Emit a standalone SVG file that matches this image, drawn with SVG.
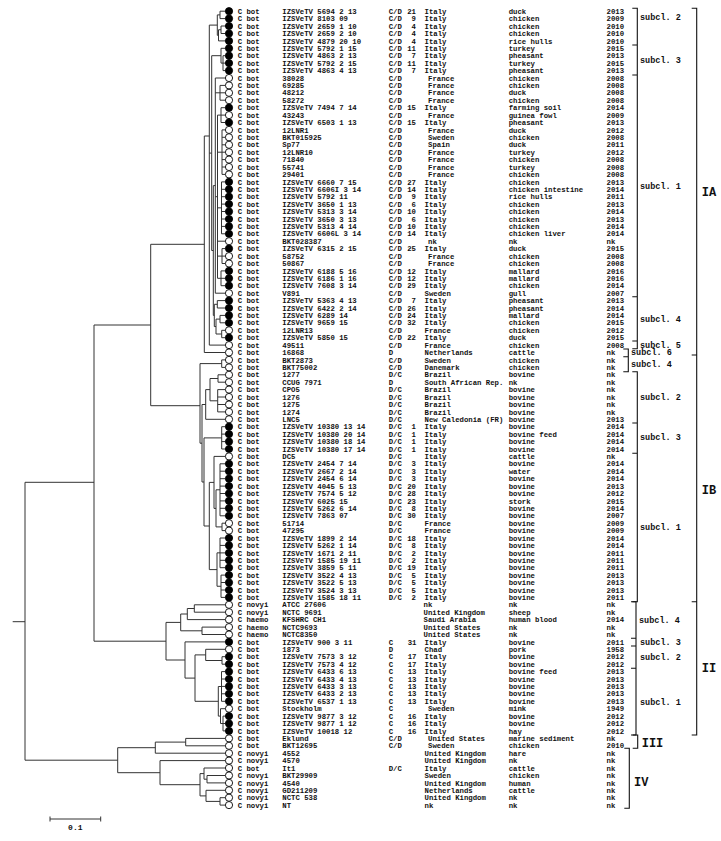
<svg xmlns="http://www.w3.org/2000/svg" xmlns:xlink="http://www.w3.org/1999/xlink" width="721" height="841" viewBox="0 0 721 841">
<style>
text{font-family:"Liberation Mono","DejaVu Sans Mono",monospace;font-weight:bold;font-size:7.3px;fill:#111}
.e{text-anchor:end}
.lb{font-size:8.5px}
.cl{font-size:12px}
.sc{font-size:8px;text-anchor:middle}
.t{fill:none;stroke:#333;stroke-width:1}
.b{fill:none;stroke:#111;stroke-width:1.1}
</style>
<defs>
<circle id="F" cx="229" cy="-2.6" r="3.6" fill="#000" stroke="#000" stroke-width="0.9"/>
<circle id="O" cx="229" cy="-2.6" r="3.6" fill="#fff" stroke="#000" stroke-width="0.9"/>
</defs>
<rect width="721" height="841" fill="#fff"/>
<g id="connectors" class="t">
<path d="M12.7,621.7H25 M25,482.3V760.2 M25,482.3H94 M25,760.2H117.7 M94,325V641.2 M94,325H150.7 M94,641.2H166 M150.7,244.3V405.7 M150.7,244.3H204.3 M150.7,405.7H200"/>
<path d="M204.3,136V352.5 M204.3,136H209.3 M204.3,352.5H225.5 M209.3,25.1V345.1 M209.3,25.1H217.3 M209.3,153.1H211.7 M209.3,345.1H225.5 M217.3,14.9V35.3 M217.3,14.9H220 M217.3,35.3H218.5 M220,11.2V18.6 M220,11.2H225.5 M220,18.6H225.5 M218.5,29.75V40.9 M218.5,29.75H221 M218.5,40.9H225.5 M221,26V33.5 M221,26H225.5 M221,33.5H225.5 M211.7,55.7V250.5 M211.7,55.7H221 M211.7,250.5H213.3 M221,48.3V63.1 M221,48.3H225.5 M221,63.1H223 M223,55.7V70.6 M223,55.7H225.5 M223,63.1H225.5 M223,70.6H225.5"/>
<path d="M213.3,185.6V315.4 M213.3,185.6H215.3 M213.3,315.4H214.3 M215.3,78V293.2 M215.3,78H225.5 M215.3,92.8H220 M215.3,196.7H217.5 M215.3,293.2H225.5 M220,85.4V100.2 M220,85.4H225.5 M220,92.8H225.5 M220,100.2H225.5 M217.5,115.1V278.3 M217.5,115.1H221 M217.5,152.2H222 M217.5,207.85H221.5 M217.5,241.2H225.5 M217.5,256.1H222 M217.5,278.3H221 M221,107.7V122.5 M221,107.7H225.5 M221,115.1H225.5 M221,122.5H225.5 M222,129.9V174.4 M222,129.9H225.5 M222,137.3H225.5 M222,144.8H225.5 M222,152.2H225.5 M222,159.6H225.5 M222,167H225.5 M222,174.4H225.5 M221.5,181.9V233.8 M221.5,181.9H225.5 M221.5,189.3H225.5 M221.5,196.7H225.5 M221.5,204.1H225.5 M221.5,211.5H225.5 M221.5,219H225.5 M221.5,226.4H225.5 M221.5,233.8H225.5 M222,248.6V263.5 M222,248.6H225.5 M222,256.1H225.5 M222,263.5H225.5 M221,270.9V285.7 M221,270.9H225.5 M221,278.3H225.5 M221,285.7H225.5"/>
<path d="M214.3,304.3V326.55 M214.3,304.3H217.3 M214.3,326.55H216 M217.3,300.6V308 M217.3,300.6H225.5 M217.3,308H225.5 M216,319.1V334 M216,319.1H220 M216,334H221.7 M220,315.4V322.8 M220,315.4H225.5 M220,322.8H225.5 M221.7,330.3V337.7 M221.7,330.3H225.5 M221.7,337.7H225.5"/>
<path d="M200,363.6V443.2 M200,363.6H221.7 M200,443.2H202 M221.7,359.9V367.4 M221.7,359.9H225.5 M221.7,367.4H225.5 M202,404.5V482 M202,404.5H205.7 M202,482H204 M205.7,389.6V419.3 M205.7,389.6H210 M205.7,419.3H225.5 M210,378.5V400.8 M210,378.5H218 M210,400.8H217.7 M218,374.8V382.2 M218,374.8H225.5 M218,382.2H225.5 M217.7,389.6V411.9 M217.7,389.6H225.5 M217.7,397H225.5 M217.7,404.5H225.5 M217.7,411.9H225.5 M204,437.9V526 M204,437.9H221.7 M204,526H209.3 M221.7,426.7V449 M221.7,426.7H225.5 M221.7,434.1H225.5 M221.7,441.6H225.5 M221.7,449H225.5"/>
<path d="M209.3,482.4V569.6 M209.3,482.4H214 M209.3,569.6H217 M214,456.4V508.4 M214,456.4H225.5 M214,508.4H216 M216,489.8V526.9 M216,489.8H220 M216,526.9H222 M220,463.8V515.8 M220,463.8H225.5 M220,471.2H225.5 M220,478.7H225.5 M220,486.1H225.5 M220,493.5H225.5 M220,500.9H225.5 M220,508.3H225.5 M220,515.8H225.5 M222,523.2V530.6 M222,523.2H225.5 M222,530.6H225.5 M217,552.85V586.25 M217,552.85H220 M217,586.25H221 M220,538V567.7 M220,538H225.5 M220,545.4H225.5 M220,552.9H225.5 M220,560.3H225.5 M220,567.7H225.5 M221,575.1V597.4 M221,575.1H225.5 M221,582.5H225.5 M221,590H225.5 M221,597.4H225.5"/>
<path d="M166,622.4V660 M166,622.4H180.7 M166,660H185 M180.7,614V630.8 M180.7,614H187.3 M180.7,630.8H202 M187.3,608.5V619.6 M187.3,608.5H194.3 M187.3,619.6H225.5 M194.3,604.8V612.2 M194.3,604.8H225.5 M194.3,612.2H225.5 M202,627.1V634.5 M202,627.1H225.5 M202,634.5H225.5 M185,641.9V678.1 M185,641.9H225.5 M185,678.1H195 M195,654.9V701.3 M195,654.9H205.7 M195,701.3H218.3 M205.7,649.3V660.5 M205.7,649.3H225.5 M205.7,660.5H222 M222,656.7V664.2 M222,656.7H225.5 M222,664.2H225.5 M218.3,686.5V716.1 M218.3,686.5H221.5 M218.3,716.1H220.5 M221.5,671.6V701.3 M221.5,671.6H225.5 M221.5,679H225.5 M221.5,686.4H225.5 M221.5,693.8H225.5 M221.5,701.3H225.5 M220.5,708.7V723.5 M220.5,708.7H225.5 M220.5,723.5H223 M223,716.1V730.9 M223,716.1H225.5 M223,723.5H225.5 M223,730.9H225.5"/>
<path d="M117.7,747.7V772.7 M117.7,747.7H155.3 M117.7,772.7H160 M155.3,742.1V753.2 M155.3,742.1H185.7 M155.3,753.2H225.5 M185.7,738.4V745.8 M185.7,738.4H225.5 M185.7,745.8H225.5 M160,760.6V784.7 M160,760.6H225.5 M160,784.7H200 M200,773.6V795.9 M200,773.6H204 M200,795.9H206 M204,768V779.2 M204,768H225.5 M204,779.2H207 M207,775.5V782.9 M207,775.5H225.5 M207,782.9H225.5 M206,790.3V801.4 M206,790.3H225.5 M206,801.4H220 M220,797.7V805.1 M220,797.7H225.5 M220,805.1H225.5"/>
</g>
<g id="n1" transform="translate(0,13.8)"><use href="#F"/><text x="237.7">C bot</text><text x="282.3">IZSVeTV 5694 2 13</text><text x="388.7">C/D</text><text x="416" class="e">21</text><text x="424.5">Italy</text><text x="508.7">duck</text><text x="606.5">2013</text></g>
<g id="n2" transform="translate(0,21.2)"><use href="#F"/><text x="237.7">C bot</text><text x="282.3">IZSVeTV 8103 09</text><text x="388.7">C/D</text><text x="416" class="e">9</text><text x="424.5">Italy</text><text x="508.7">chicken</text><text x="606.5">2009</text></g>
<g id="n3" transform="translate(0,28.6)"><use href="#F"/><text x="237.7">C bot</text><text x="282.3">IZSVeTV 2659 1 10</text><text x="388.7">C/D</text><text x="416" class="e">4</text><text x="424.5">Italy</text><text x="508.7">chicken</text><text x="606.5">2010</text></g>
<g id="n4" transform="translate(0,36.1)"><use href="#F"/><text x="237.7">C bot</text><text x="282.3">IZSVeTV 2659 2 10</text><text x="388.7">C/D</text><text x="416" class="e">4</text><text x="424.5">Italy</text><text x="508.7">chicken</text><text x="606.5">2010</text></g>
<g id="n5" transform="translate(0,43.5)"><use href="#F"/><text x="237.7">C bot</text><text x="282.3">IZSVeTV 4879 20 10</text><text x="388.7">C/D</text><text x="416" class="e">4</text><text x="424.5">Italy</text><text x="508.7">rice hulls</text><text x="606.5">2010</text></g>
<g id="n6" transform="translate(0,50.9)"><use href="#F"/><text x="237.7">C bot</text><text x="282.3">IZSVeTV 5792 1 15</text><text x="388.7">C/D</text><text x="416" class="e">11</text><text x="424.5">Italy</text><text x="508.7">turkey</text><text x="606.5">2015</text></g>
<g id="n7" transform="translate(0,58.3)"><use href="#F"/><text x="237.7">C bot</text><text x="282.3">IZSVeTV 4863 2 13</text><text x="388.7">C/D</text><text x="416" class="e">7</text><text x="424.5">Italy</text><text x="508.7">pheasant</text><text x="606.5">2013</text></g>
<g id="n8" transform="translate(0,65.7)"><use href="#F"/><text x="237.7">C bot</text><text x="282.3">IZSVeTV 5792 2 15</text><text x="388.7">C/D</text><text x="416" class="e">11</text><text x="424.5">Italy</text><text x="508.7">turkey</text><text x="606.5">2015</text></g>
<g id="n9" transform="translate(0,73.2)"><use href="#F"/><text x="237.7">C bot</text><text x="282.3">IZSVeTV 4863 4 13</text><text x="388.7">C/D</text><text x="416" class="e">7</text><text x="424.5">Italy</text><text x="508.7">pheasant</text><text x="606.5">2013</text></g>
<g id="n10" transform="translate(0,80.6)"><use href="#O"/><text x="237.7">C bot</text><text x="282.3">38028</text><text x="388.7">C/D</text><text x="428">France</text><text x="508.7">chicken</text><text x="606.5">2008</text></g>
<g id="n11" transform="translate(0,88)"><use href="#O"/><text x="237.7">C bot</text><text x="282.3">69285</text><text x="388.7">C/D</text><text x="428">France</text><text x="508.7">chicken</text><text x="606.5">2008</text></g>
<g id="n12" transform="translate(0,95.4)"><use href="#O"/><text x="237.7">C bot</text><text x="282.3">48212</text><text x="388.7">C/D</text><text x="428">France</text><text x="508.7">duck</text><text x="606.5">2008</text></g>
<g id="n13" transform="translate(0,102.8)"><use href="#O"/><text x="237.7">C bot</text><text x="282.3">58272</text><text x="388.7">C/D</text><text x="428">France</text><text x="508.7">chicken</text><text x="606.5">2008</text></g>
<g id="n14" transform="translate(0,110.3)"><use href="#F"/><text x="237.7">C bot</text><text x="282.3">IZSVeTV 7494 7 14</text><text x="388.7">C/D</text><text x="416" class="e">15</text><text x="424.5">Italy</text><text x="508.7">farming soil</text><text x="606.5">2014</text></g>
<g id="n15" transform="translate(0,117.7)"><use href="#O"/><text x="237.7">C bot</text><text x="282.3">43243</text><text x="388.7">C/D</text><text x="428">France</text><text x="508.7">guinea fowl</text><text x="606.5">2009</text></g>
<g id="n16" transform="translate(0,125.1)"><use href="#F"/><text x="237.7">C bot</text><text x="282.3">IZSVeTV 6503 1 13</text><text x="388.7">C/D</text><text x="416" class="e">15</text><text x="424.5">Italy</text><text x="508.7">pheasant</text><text x="606.5">2013</text></g>
<g id="n17" transform="translate(0,132.5)"><use href="#O"/><text x="237.7">C bot</text><text x="282.3">12LNR1</text><text x="388.7">C/D</text><text x="428">France</text><text x="508.7">duck</text><text x="606.5">2012</text></g>
<g id="n18" transform="translate(0,139.9)"><use href="#O"/><text x="237.7">C bot</text><text x="282.3">BKT015925</text><text x="388.7">C/D</text><text x="428">Sweden</text><text x="508.7">chicken</text><text x="606.5">2008</text></g>
<g id="n19" transform="translate(0,147.4)"><use href="#O"/><text x="237.7">C bot</text><text x="282.3">Sp77</text><text x="388.7">C/D</text><text x="428">Spain</text><text x="508.7">duck</text><text x="606.5">2011</text></g>
<g id="n20" transform="translate(0,154.8)"><use href="#O"/><text x="237.7">C bot</text><text x="282.3">12LNR10</text><text x="388.7">C/D</text><text x="428">France</text><text x="508.7">turkey</text><text x="606.5">2012</text></g>
<g id="n21" transform="translate(0,162.2)"><use href="#O"/><text x="237.7">C bot</text><text x="282.3">71840</text><text x="388.7">C/D</text><text x="428">France</text><text x="508.7">chicken</text><text x="606.5">2008</text></g>
<g id="n22" transform="translate(0,169.6)"><use href="#O"/><text x="237.7">C bot</text><text x="282.3">55741</text><text x="388.7">C/D</text><text x="428">France</text><text x="508.7">turkey</text><text x="606.5">2008</text></g>
<g id="n23" transform="translate(0,177)"><use href="#O"/><text x="237.7">C bot</text><text x="282.3">29401</text><text x="388.7">C/D</text><text x="428">France</text><text x="508.7">chicken</text><text x="606.5">2008</text></g>
<g id="n24" transform="translate(0,184.5)"><use href="#F"/><text x="237.7">C bot</text><text x="282.3">IZSVeTV 6660 7 15</text><text x="388.7">C/D</text><text x="416" class="e">27</text><text x="424.5">Italy</text><text x="508.7">chicken</text><text x="606.5">2013</text></g>
<g id="n25" transform="translate(0,191.9)"><use href="#F"/><text x="237.7">C bot</text><text x="282.3">IZSVeTV 6606I 3 14</text><text x="388.7">C/D</text><text x="416" class="e">14</text><text x="424.5">Italy</text><text x="508.7">chicken intestine</text><text x="606.5">2014</text></g>
<g id="n26" transform="translate(0,199.3)"><use href="#F"/><text x="237.7">C bot</text><text x="282.3">IZSVeTV 5792 11</text><text x="388.7">C/D</text><text x="416" class="e">9</text><text x="424.5">Italy</text><text x="508.7">rice hulls</text><text x="606.5">2011</text></g>
<g id="n27" transform="translate(0,206.7)"><use href="#F"/><text x="237.7">C bot</text><text x="282.3">IZSVeTV 3650 1 13</text><text x="388.7">C/D</text><text x="416" class="e">6</text><text x="424.5">Italy</text><text x="508.7">chicken</text><text x="606.5">2013</text></g>
<g id="n28" transform="translate(0,214.1)"><use href="#F"/><text x="237.7">C bot</text><text x="282.3">IZSVeTV 5313 3 14</text><text x="388.7">C/D</text><text x="416" class="e">10</text><text x="424.5">Italy</text><text x="508.7">chicken</text><text x="606.5">2014</text></g>
<g id="n29" transform="translate(0,221.6)"><use href="#F"/><text x="237.7">C bot</text><text x="282.3">IZSVeTV 3650 3 13</text><text x="388.7">C/D</text><text x="416" class="e">6</text><text x="424.5">Italy</text><text x="508.7">chicken</text><text x="606.5">2013</text></g>
<g id="n30" transform="translate(0,229)"><use href="#F"/><text x="237.7">C bot</text><text x="282.3">IZSVeTV 5313 4 14</text><text x="388.7">C/D</text><text x="416" class="e">10</text><text x="424.5">Italy</text><text x="508.7">chicken</text><text x="606.5">2014</text></g>
<g id="n31" transform="translate(0,236.4)"><use href="#F"/><text x="237.7">C bot</text><text x="282.3">IZSVeTV 6606L 3 14</text><text x="388.7">C/D</text><text x="416" class="e">14</text><text x="424.5">Italy</text><text x="508.7">chicken liver</text><text x="606.5">2014</text></g>
<g id="n32" transform="translate(0,243.8)"><use href="#O"/><text x="237.7">C bot</text><text x="282.3">BKT028387</text><text x="388.7">C/D</text><text x="428">nk</text><text x="508.7">nk</text><text x="606.5">nk</text></g>
<g id="n33" transform="translate(0,251.2)"><use href="#F"/><text x="237.7">C bot</text><text x="282.3">IZSVeTV 6315 2 15</text><text x="388.7">C/D</text><text x="416" class="e">25</text><text x="424.5">Italy</text><text x="508.7">duck</text><text x="606.5">2015</text></g>
<g id="n34" transform="translate(0,258.7)"><use href="#O"/><text x="237.7">C bot</text><text x="282.3">58752</text><text x="388.7">C/D</text><text x="428">France</text><text x="508.7">chicken</text><text x="606.5">2008</text></g>
<g id="n35" transform="translate(0,266.1)"><use href="#O"/><text x="237.7">C bot</text><text x="282.3">50867</text><text x="388.7">C/D</text><text x="428">France</text><text x="508.7">chicken</text><text x="606.5">2008</text></g>
<g id="n36" transform="translate(0,273.5)"><use href="#F"/><text x="237.7">C bot</text><text x="282.3">IZSVeTV 6188 5 16</text><text x="388.7">C/D</text><text x="416" class="e">12</text><text x="424.5">Italy</text><text x="508.7">mallard</text><text x="606.5">2016</text></g>
<g id="n37" transform="translate(0,280.9)"><use href="#F"/><text x="237.7">C bot</text><text x="282.3">IZSVeTV 6186 1 16</text><text x="388.7">C/D</text><text x="416" class="e">12</text><text x="424.5">Italy</text><text x="508.7">mallard</text><text x="606.5">2016</text></g>
<g id="n38" transform="translate(0,288.3)"><use href="#F"/><text x="237.7">C bot</text><text x="282.3">IZSVeTV 7608 3 14</text><text x="388.7">C/D</text><text x="416" class="e">29</text><text x="424.5">Italy</text><text x="508.7">chicken</text><text x="606.5">2014</text></g>
<g id="n39" transform="translate(0,295.8)"><use href="#O"/><text x="237.7">C bot</text><text x="282.3">V891</text><text x="388.7">C/D</text><text x="424.5">Sweden</text><text x="508.7">gull</text><text x="606.5">2007</text></g>
<g id="n40" transform="translate(0,303.2)"><use href="#F"/><text x="237.7">C bot</text><text x="282.3">IZSVeTV 5363 4 13</text><text x="388.7">C/D</text><text x="416" class="e">7</text><text x="424.5">Italy</text><text x="508.7">pheasant</text><text x="606.5">2013</text></g>
<g id="n41" transform="translate(0,310.6)"><use href="#F"/><text x="237.7">C bot</text><text x="282.3">IZSVeTV 6422 2 14</text><text x="388.7">C/D</text><text x="416" class="e">26</text><text x="424.5">Italy</text><text x="508.7">pheasant</text><text x="606.5">2014</text></g>
<g id="n42" transform="translate(0,318)"><use href="#F"/><text x="237.7">C bot</text><text x="282.3">IZSVeTV 6289 14</text><text x="388.7">C/D</text><text x="416" class="e">24</text><text x="424.5">Italy</text><text x="508.7">mallard</text><text x="606.5">2014</text></g>
<g id="n43" transform="translate(0,325.4)"><use href="#F"/><text x="237.7">C bot</text><text x="282.3">IZSVeTV 9659 15</text><text x="388.7">C/D</text><text x="416" class="e">32</text><text x="424.5">Italy</text><text x="508.7">chicken</text><text x="606.5">2015</text></g>
<g id="n44" transform="translate(0,332.9)"><use href="#O"/><text x="237.7">C bot</text><text x="282.3">12LNR13</text><text x="388.7">C/D</text><text x="424.5">France</text><text x="508.7">chicken</text><text x="606.5">2012</text></g>
<g id="n45" transform="translate(0,340.3)"><use href="#F"/><text x="237.7">C bot</text><text x="282.3">IZSVeTV 5850 15</text><text x="388.7">C/D</text><text x="416" class="e">22</text><text x="424.5">Italy</text><text x="508.7">duck</text><text x="606.5">2015</text></g>
<g id="n46" transform="translate(0,347.7)"><use href="#O"/><text x="237.7">C bot</text><text x="282.3">49511</text><text x="388.7">C/D</text><text x="424.5">France</text><text x="508.7">chicken</text><text x="606.5">2008</text></g>
<g id="n47" transform="translate(0,355.1)"><use href="#O"/><text x="237.7">C bot</text><text x="282.3">16868</text><text x="388.7">D</text><text x="424.5">Netherlands</text><text x="508.7">cattle</text><text x="606.5">nk</text></g>
<g id="n48" transform="translate(0,362.5)"><use href="#O"/><text x="237.7">C bot</text><text x="282.3">BKT2873</text><text x="388.7">C/D</text><text x="424.5">Sweden</text><text x="508.7">chicken</text><text x="606.5">nk</text></g>
<g id="n49" transform="translate(0,370)"><use href="#O"/><text x="237.7">C bot</text><text x="282.3">BKT75002</text><text x="388.7">C/D</text><text x="424.5">Danemark</text><text x="508.7">chicken</text><text x="606.5">nk</text></g>
<g id="n50" transform="translate(0,377.4)"><use href="#O"/><text x="237.7">C bot</text><text x="282.3">1277</text><text x="388.7">D/C</text><text x="424.5">Brazil</text><text x="508.7">bovine</text><text x="606.5">nk</text></g>
<g id="n51" transform="translate(0,384.8)"><use href="#O"/><text x="237.7">C bot</text><text x="282.3">CCUG 7971</text><text x="388.7">D</text><text x="424.5">South African Rep.</text><text x="508.7">nk</text><text x="606.5">nk</text></g>
<g id="n52" transform="translate(0,392.2)"><use href="#O"/><text x="237.7">C bot</text><text x="282.3">CPO5</text><text x="388.7">D/C</text><text x="424.5">Brazil</text><text x="508.7">bovine</text><text x="606.5">nk</text></g>
<g id="n53" transform="translate(0,399.6)"><use href="#O"/><text x="237.7">C bot</text><text x="282.3">1276</text><text x="388.7">D/C</text><text x="424.5">Brazil</text><text x="508.7">bovine</text><text x="606.5">nk</text></g>
<g id="n54" transform="translate(0,407.1)"><use href="#O"/><text x="237.7">C bot</text><text x="282.3">1275</text><text x="388.7">D/C</text><text x="424.5">Brazil</text><text x="508.7">bovine</text><text x="606.5">nk</text></g>
<g id="n55" transform="translate(0,414.5)"><use href="#O"/><text x="237.7">C bot</text><text x="282.3">1274</text><text x="388.7">D/C</text><text x="424.5">Brazil</text><text x="508.7">bovine</text><text x="606.5">nk</text></g>
<g id="n56" transform="translate(0,421.9)"><use href="#O"/><text x="237.7">C bot</text><text x="282.3">LNC5</text><text x="388.7">D/C</text><text x="424.5">New Caledonia (FR)</text><text x="508.7">bovine</text><text x="606.5">2013</text></g>
<g id="n57" transform="translate(0,429.3)"><use href="#F"/><text x="237.7">C bot</text><text x="282.3">IZSVeTV 10380 13 14</text><text x="388.7">D/C</text><text x="416" class="e">1</text><text x="424.5">Italy</text><text x="508.7">bovine</text><text x="606.5">2014</text></g>
<g id="n58" transform="translate(0,436.7)"><use href="#F"/><text x="237.7">C bot</text><text x="282.3">IZSVeTV 10380 20 14</text><text x="388.7">D/C</text><text x="416" class="e">1</text><text x="424.5">Italy</text><text x="508.7">bovine feed</text><text x="606.5">2014</text></g>
<g id="n59" transform="translate(0,444.2)"><use href="#F"/><text x="237.7">C bot</text><text x="282.3">IZSVeTV 10380 18 14</text><text x="388.7">D/C</text><text x="416" class="e">1</text><text x="424.5">Italy</text><text x="508.7">bovine</text><text x="606.5">2014</text></g>
<g id="n60" transform="translate(0,451.6)"><use href="#F"/><text x="237.7">C bot</text><text x="282.3">IZSVeTV 10380 17 14</text><text x="388.7">D/C</text><text x="416" class="e">1</text><text x="424.5">Italy</text><text x="508.7">bovine</text><text x="606.5">2014</text></g>
<g id="n61" transform="translate(0,459)"><use href="#O"/><text x="237.7">C bot</text><text x="282.3">DC5</text><text x="388.7">D/C</text><text x="424.5">Italy</text><text x="508.7">cattle</text><text x="606.5">nk</text></g>
<g id="n62" transform="translate(0,466.4)"><use href="#F"/><text x="237.7">C bot</text><text x="282.3">IZSVeTV 2454 7 14</text><text x="388.7">D/C</text><text x="416" class="e">3</text><text x="424.5">Italy</text><text x="508.7">bovine</text><text x="606.5">2014</text></g>
<g id="n63" transform="translate(0,473.8)"><use href="#F"/><text x="237.7">C bot</text><text x="282.3">IZSVeTV 2667 2 14</text><text x="388.7">D/C</text><text x="416" class="e">3</text><text x="424.5">Italy</text><text x="508.7">water</text><text x="606.5">2014</text></g>
<g id="n64" transform="translate(0,481.3)"><use href="#F"/><text x="237.7">C bot</text><text x="282.3">IZSVeTV 2454 6 14</text><text x="388.7">D/C</text><text x="416" class="e">3</text><text x="424.5">Italy</text><text x="508.7">bovine</text><text x="606.5">2014</text></g>
<g id="n65" transform="translate(0,488.7)"><use href="#F"/><text x="237.7">C bot</text><text x="282.3">IZSVeTV 4045 5 13</text><text x="388.7">D/C</text><text x="416" class="e">20</text><text x="424.5">Italy</text><text x="508.7">bovine</text><text x="606.5">2013</text></g>
<g id="n66" transform="translate(0,496.1)"><use href="#F"/><text x="237.7">C bot</text><text x="282.3">IZSVeTV 7574 5 12</text><text x="388.7">D/C</text><text x="416" class="e">28</text><text x="424.5">Italy</text><text x="508.7">bovine</text><text x="606.5">2012</text></g>
<g id="n67" transform="translate(0,503.5)"><use href="#F"/><text x="237.7">C bot</text><text x="282.3">IZSVeTV 6025 15</text><text x="388.7">D/C</text><text x="416" class="e">23</text><text x="424.5">Italy</text><text x="508.7">stork</text><text x="606.5">2015</text></g>
<g id="n68" transform="translate(0,510.9)"><use href="#F"/><text x="237.7">C bot</text><text x="282.3">IZSVeTV 5262 6 14</text><text x="388.7">D/C</text><text x="416" class="e">8</text><text x="424.5">Italy</text><text x="508.7">bovine</text><text x="606.5">2014</text></g>
<g id="n69" transform="translate(0,518.4)"><use href="#F"/><text x="237.7">C bot</text><text x="282.3">IZSVeTV 7863 07</text><text x="388.7">D/C</text><text x="416" class="e">30</text><text x="424.5">Italy</text><text x="508.7">bovine</text><text x="606.5">2007</text></g>
<g id="n70" transform="translate(0,525.8)"><use href="#O"/><text x="237.7">C bot</text><text x="282.3">51714</text><text x="388.7">D/C</text><text x="424.5">France</text><text x="508.7">bovine</text><text x="606.5">2009</text></g>
<g id="n71" transform="translate(0,533.2)"><use href="#O"/><text x="237.7">C bot</text><text x="282.3">47295</text><text x="388.7">D/C</text><text x="424.5">France</text><text x="508.7">bovine</text><text x="606.5">2009</text></g>
<g id="n72" transform="translate(0,540.6)"><use href="#F"/><text x="237.7">C bot</text><text x="282.3">IZSVeTV 1899 2 14</text><text x="388.7">D/C</text><text x="416" class="e">18</text><text x="424.5">Italy</text><text x="508.7">bovine</text><text x="606.5">2014</text></g>
<g id="n73" transform="translate(0,548)"><use href="#F"/><text x="237.7">C bot</text><text x="282.3">IZSVeTV 5262 1 14</text><text x="388.7">D/C</text><text x="416" class="e">8</text><text x="424.5">Italy</text><text x="508.7">bovine</text><text x="606.5">2014</text></g>
<g id="n74" transform="translate(0,555.5)"><use href="#F"/><text x="237.7">C bot</text><text x="282.3">IZSVeTV 1671 2 11</text><text x="388.7">D/C</text><text x="416" class="e">2</text><text x="424.5">Italy</text><text x="508.7">bovine</text><text x="606.5">2011</text></g>
<g id="n75" transform="translate(0,562.9)"><use href="#F"/><text x="237.7">C bot</text><text x="282.3">IZSVeTV 1585 19 11</text><text x="388.7">D/C</text><text x="416" class="e">2</text><text x="424.5">Italy</text><text x="508.7">bovine</text><text x="606.5">2011</text></g>
<g id="n76" transform="translate(0,570.3)"><use href="#F"/><text x="237.7">C bot</text><text x="282.3">IZSVeTV 3859 5 11</text><text x="388.7">D/C</text><text x="416" class="e">19</text><text x="424.5">Italy</text><text x="508.7">bovine</text><text x="606.5">2011</text></g>
<g id="n77" transform="translate(0,577.7)"><use href="#F"/><text x="237.7">C bot</text><text x="282.3">IZSVeTV 3522 4 13</text><text x="388.7">D/C</text><text x="416" class="e">5</text><text x="424.5">Italy</text><text x="508.7">bovine</text><text x="606.5">2013</text></g>
<g id="n78" transform="translate(0,585.1)"><use href="#F"/><text x="237.7">C bot</text><text x="282.3">IZSVeTV 3522 5 13</text><text x="388.7">D/C</text><text x="416" class="e">5</text><text x="424.5">Italy</text><text x="508.7">bovine</text><text x="606.5">2013</text></g>
<g id="n79" transform="translate(0,592.6)"><use href="#F"/><text x="237.7">C bot</text><text x="282.3">IZSVeTV 3524 3 13</text><text x="388.7">D/C</text><text x="416" class="e">5</text><text x="424.5">Italy</text><text x="508.7">bovine</text><text x="606.5">2013</text></g>
<g id="n80" transform="translate(0,600)"><use href="#F"/><text x="237.7">C bot</text><text x="282.3">IZSVeTV 1585 18 11</text><text x="388.7">D/C</text><text x="416" class="e">2</text><text x="424.5">Italy</text><text x="508.7">bovine</text><text x="606.5">2011</text></g>
<g id="n81" transform="translate(0,607.4)"><use href="#O"/><text x="237.7">C novyi</text><text x="282.3">ATCC 27606</text><text x="423.5">nk</text><text x="508.7">nk</text><text x="606.5">nk</text></g>
<g id="n82" transform="translate(0,614.8)"><use href="#O"/><text x="237.7">C novyi</text><text x="282.3">NCTC 9691</text><text x="423.5">United Kingdom</text><text x="508.7">sheep</text><text x="606.5">nk</text></g>
<g id="n83" transform="translate(0,622.2)"><use href="#O"/><text x="237.7">C haemo</text><text x="282.3">KFSHRC CH1</text><text x="423.5">Saudi Arabia</text><text x="508.7">human blood</text><text x="606.5">2014</text></g>
<g id="n84" transform="translate(0,629.7)"><use href="#O"/><text x="237.7">C haemo</text><text x="282.3">NCTC9693</text><text x="423.5">United States</text><text x="508.7">nk</text><text x="606.5">nk</text></g>
<g id="n85" transform="translate(0,637.1)"><use href="#O"/><text x="237.7">C haemo</text><text x="282.3">NCTC8350</text><text x="423.5">United States</text><text x="508.7">nk</text><text x="606.5">nk</text></g>
<g id="n86" transform="translate(0,644.5)"><use href="#F"/><text x="237.7">C bot</text><text x="282.3">IZSVeTV 900 3 11</text><text x="388.7">C</text><text x="416.5" class="e">31</text><text x="424.5">Italy</text><text x="508.7">bovine</text><text x="606.5">2011</text></g>
<g id="n87" transform="translate(0,651.9)"><use href="#O"/><text x="237.7">C bot</text><text x="282.3">1873</text><text x="388.7">D</text><text x="424.5">Chad</text><text x="508.7">pork</text><text x="606.5">1958</text></g>
<g id="n88" transform="translate(0,659.3)"><use href="#F"/><text x="237.7">C bot</text><text x="282.3">IZSVeTV 7573 3 12</text><text x="388.7">C</text><text x="416.5" class="e">17</text><text x="424.5">Italy</text><text x="508.7">bovine</text><text x="606.5">2012</text></g>
<g id="n89" transform="translate(0,666.8)"><use href="#F"/><text x="237.7">C bot</text><text x="282.3">IZSVeTV 7573 4 12</text><text x="388.7">C</text><text x="416.5" class="e">17</text><text x="424.5">Italy</text><text x="508.7">bovine</text><text x="606.5">2012</text></g>
<g id="n90" transform="translate(0,674.2)"><use href="#F"/><text x="237.7">C bot</text><text x="282.3">IZSVeTV 6433 6 13</text><text x="388.7">C</text><text x="416.5" class="e">13</text><text x="424.5">Italy</text><text x="508.7">bovine feed</text><text x="606.5">2013</text></g>
<g id="n91" transform="translate(0,681.6)"><use href="#F"/><text x="237.7">C bot</text><text x="282.3">IZSVeTV 6433 4 13</text><text x="388.7">C</text><text x="416.5" class="e">13</text><text x="424.5">Italy</text><text x="508.7">bovine</text><text x="606.5">2013</text></g>
<g id="n92" transform="translate(0,689)"><use href="#F"/><text x="237.7">C bot</text><text x="282.3">IZSVeTV 6433 3 13</text><text x="388.7">C</text><text x="416.5" class="e">13</text><text x="424.5">Italy</text><text x="508.7">bovine</text><text x="606.5">2013</text></g>
<g id="n93" transform="translate(0,696.4)"><use href="#F"/><text x="237.7">C bot</text><text x="282.3">IZSVeTV 6433 2 13</text><text x="388.7">C</text><text x="416.5" class="e">13</text><text x="424.5">Italy</text><text x="508.7">bovine</text><text x="606.5">2013</text></g>
<g id="n94" transform="translate(0,703.9)"><use href="#F"/><text x="237.7">C bot</text><text x="282.3">IZSVeTV 6537 1 13</text><text x="388.7">C</text><text x="416.5" class="e">13</text><text x="424.5">Italy</text><text x="508.7">bovine</text><text x="606.5">2013</text></g>
<g id="n95" transform="translate(0,711.3)"><use href="#O"/><text x="237.7">C bot</text><text x="282.3">Stockholm</text><text x="388.7">C</text><text x="428">Sweden</text><text x="508.7">mink</text><text x="606.5">1949</text></g>
<g id="n96" transform="translate(0,718.7)"><use href="#F"/><text x="237.7">C bot</text><text x="282.3">IZSVeTV 9877 3 12</text><text x="388.7">C</text><text x="416.5" class="e">16</text><text x="424.5">Italy</text><text x="508.7">bovine</text><text x="606.5">2012</text></g>
<g id="n97" transform="translate(0,726.1)"><use href="#F"/><text x="237.7">C bot</text><text x="282.3">IZSVeTV 9877 1 12</text><text x="388.7">C</text><text x="416.5" class="e">16</text><text x="424.5">Italy</text><text x="508.7">bovine</text><text x="606.5">2012</text></g>
<g id="n98" transform="translate(0,733.5)"><use href="#F"/><text x="237.7">C bot</text><text x="282.3">IZSVeTV 10018 12</text><text x="388.7">C</text><text x="416.5" class="e">16</text><text x="424.5">Italy</text><text x="508.7">hay</text><text x="606.5">2012</text></g>
<g id="n99" transform="translate(0,741)"><use href="#O"/><text x="237.7">C bot</text><text x="282.3">Eklund</text><text x="388.7">C/D</text><text x="428">United States</text><text x="508.7">marine sediment</text><text x="606.5">nk</text></g>
<g id="n100" transform="translate(0,748.4)"><use href="#O"/><text x="237.7">C bot</text><text x="282.3">BKT12695</text><text x="388.7">C/D</text><text x="428">Sweden</text><text x="508.7">chicken</text><text x="606.5">2010</text></g>
<g id="n101" transform="translate(0,755.8)"><use href="#O"/><text x="237.7">C novyi</text><text x="282.3">4552</text><text x="424.5">United Kingdom</text><text x="508.7">hare</text><text x="606.5">nk</text></g>
<g id="n102" transform="translate(0,763.2)"><use href="#O"/><text x="237.7">C novyi</text><text x="282.3">4570</text><text x="424.5">United Kingdom</text><text x="508.7">nk</text><text x="606.5">nk</text></g>
<g id="n103" transform="translate(0,770.6)"><use href="#O"/><text x="237.7">C bot</text><text x="282.3">It1</text><text x="388.7">D/C</text><text x="424.5">Italy</text><text x="508.7">cattle</text><text x="606.5">nk</text></g>
<g id="n104" transform="translate(0,778.1)"><use href="#O"/><text x="237.7">C novyi</text><text x="282.3">BKT29909</text><text x="424.5">Sweden</text><text x="508.7">chicken</text><text x="606.5">nk</text></g>
<g id="n105" transform="translate(0,785.5)"><use href="#O"/><text x="237.7">C novyi</text><text x="282.3">4540</text><text x="424.5">United Kingdom</text><text x="508.7">human</text><text x="606.5">nk</text></g>
<g id="n106" transform="translate(0,792.9)"><use href="#O"/><text x="237.7">C novyi</text><text x="282.3">GD211209</text><text x="424.5">Netherlands</text><text x="508.7">cattle</text><text x="606.5">nk</text></g>
<g id="n107" transform="translate(0,800.3)"><use href="#O"/><text x="237.7">C novyi</text><text x="282.3">NCTC 538</text><text x="424.5">United Kingdom</text><text x="508.7">nk</text><text x="606.5">nk</text></g>
<g id="n108" transform="translate(0,807.7)"><use href="#O"/><text x="237.7">C novyi</text><text x="282.3">NT</text><text x="424.5">nk</text><text x="508.7">nk</text><text x="606.5">nk</text></g>
<g id="brackets" class="b">
<path d="M632.3,8.3H637.3V348.7H632.3 M632.3,45H637.3 M632.3,75H637.3 M632.3,296.7H637.3 M632.3,341H637.3"/>
<path d="M623.3,349H628.3V371.7H623.3 M623.3,356.7H628.3"/>
<path d="M632.3,371.7H637.3V601.7H632.3 M632.3,423H637.3 M632.3,453.3H637.3"/>
<path d="M631,601.7H636V735H631 M631,638.3H636 M631,646H636 M631,668.3H636"/>
<path d="M632.7,735H637.7V748.3H632.7"/>
<path d="M624.3,748.3H629.3V808.3H624.3"/>
<path d="M691.7,8.3H696.7V735H691.7 M691.7,355H696.7 M691.7,601.7H696.7"/>
</g>
<g id="labels">
<text class="lb" x="640" y="20.3">subcl. 2</text>
<text class="lb" x="640" y="63">subcl. 3</text>
<text class="lb" x="640" y="188.7">subcl. 1</text>
<text class="lb" x="640" y="322.3">subcl. 4</text>
<text class="lb" x="640" y="348">subcl. 5</text>
<text class="lb" x="631" y="355.3">subcl. 6</text>
<text class="lb" x="631" y="367.3">subcl. 4</text>
<text class="lb" x="640" y="400.3">subcl. 2</text>
<text class="lb" x="640" y="440.3">subcl. 3</text>
<text class="lb" x="640" y="529.7">subcl. 1</text>
<text class="lb" x="639" y="623">subcl. 4</text>
<text class="lb" x="640" y="644.7">subcl. 3</text>
<text class="lb" x="640" y="660.3">subcl. 2</text>
<text class="lb" x="640" y="704.7">subcl. 1</text>
<text class="cl" x="701.7" y="195.7">IA</text>
<text class="cl" x="701.7" y="494">IB</text>
<text class="cl" x="701.7" y="672.3">II</text>
<text class="cl" x="641.7" y="747.3">III</text>
<text class="cl" x="634" y="785.7">IV</text>
</g>
<g id="scale">
<path class="t" d="M50,819H100.7 M50,816.5V821.5 M100.7,816.5V821.5"/>
<text class="sc" x="75.3" y="830">0.1</text>
</g>
</svg>
